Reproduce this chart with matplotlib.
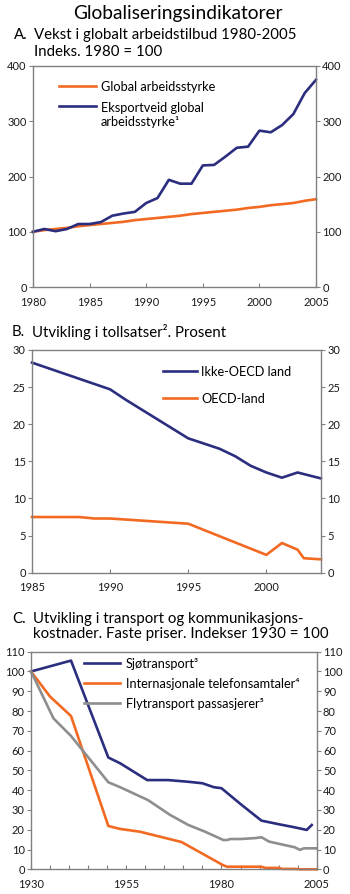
import matplotlib
matplotlib.use("Agg")
import matplotlib.pyplot as plt
from matplotlib.ticker import MultipleLocator

plt.rcParams['font.family'] = ['Lato', 'DejaVu Sans']

NAVY = '#2b2e7f'
ORANGE = '#f26a22'
GREY = '#8e8e8e'
SPINE = '#808080'

# ---- Panel A data ----
years_a = list(range(1980, 2006))
global_labour = [100, 103, 105, 107, 110, 112, 114, 116, 118, 121, 123, 125, 127,
                 129, 132, 134, 136, 138, 140, 143, 145, 148, 150, 152, 156, 159]
export_labour = [100, 105, 101, 105, 114, 114, 117.5, 129, 133, 136, 152, 161, 194,
                 187, 187, 220, 221, 236, 252, 254, 283, 280, 293, 313, 351, 375]
label_a1 = 'Global arbeidsstyrke'
label_a2 = 'Eksportveid global\narbeidsstyrke\u00b9'

# ---- Panel B data ----
non_oecd_years = [1985, 1990, 1991, 1995, 1996, 1997, 1998, 1999, 2000, 2001, 2002, 2003.5]
non_oecd = [28.3, 24.7, 23.3, 18.1, 17.4, 16.7, 15.7, 14.4, 13.5, 12.8, 13.5, 12.7]
oecd_years = [1985, 1988, 1989, 1990, 1995, 2000, 2001, 2002, 2002.4, 2003.5]
oecd = [7.5, 7.5, 7.3, 7.3, 6.6, 2.4, 4.0, 3.1, 1.95, 1.8]
label_b1 = 'Ikke-OECD land'
label_b2 = 'OECD-land'

# ---- Panel C data ----
sea_years = [1930, 1940.5, 1950.3, 1953.4, 1960.5, 1966, 1971, 1975, 1978, 1980,
             1985, 1990.5, 1992, 1995, 1999, 2002.4, 2003.7]
sea = [100, 105.5, 56.5, 53.6, 45.1, 45.1, 44.3, 43.5, 41.5, 41, 33, 24.6, 24,
       22.8, 21.3, 19.9, 22.4]
tel_years = [1930, 1935, 1940.5, 1950.3, 1953.4, 1958.6, 1969.5, 1980.5, 1981.5,
             1990.5, 1991.5, 1995, 1996, 1999.3, 2000.6, 2005]
tel = [100, 87.3, 77.5, 21.9, 20.4, 19.0, 13.8, 2.0, 1.3, 1.3, 0.7, 0.7, 0.2, 0.2, 0.0, 0.0]
air_years = [1930, 1935.9, 1940.5, 1950.3, 1953.4, 1960.7, 1966.5, 1971.3, 1975.7,
             1980.5, 1981.5, 1982.3, 1985, 1989, 1990.5, 1992.5, 1999.3, 2000.6,
             2001.6, 2005]
air = [100, 76.3, 67.4, 44, 41.5, 35, 27.5, 22.4, 19, 14.8, 14.8, 15.3, 15.3, 15.8,
       16.2, 14, 11.1, 9.8, 10.6, 10.6]
label_c1 = 'Sjøtransport\u00b3'
label_c2 = 'Internasjonale telefonsamtaler\u2074'
label_c3 = 'Flytransport passasjerer\u2075'

W, H = 350, 894
fig = plt.figure(figsize=(W / 100, H / 100), dpi=100)


def px_axes(left, right, top, bottom):
    return fig.add_axes([left / W, 1 - bottom / H, (right - left) / W, (bottom - top) / H])


def style(ax):
    for s in ax.spines.values():
        s.set_color(SPINE)
        s.set_linewidth(1.0)
    ax.tick_params(axis='y', which='both', direction='out', length=3, width=0.8,
                   color=SPINE, left=True, right=True, labelleft=True,
                   labelright=True, labelsize=8, pad=1.5, labelcolor='#1a1a1a')
    ax.tick_params(axis='x', which='both', direction='in', length=3, width=0.8,
                   color=SPINE, labelsize=8, pad=7, labelcolor='#1a1a1a')


LW = 1.9
FS_T = 10.8
FS_L = 9.2

# Main title
fig.text(178 / W, 1 - 14 / H, 'Globaliseringsindikatorer', ha='center', va='center',
         fontsize=13.8)

# ---------- Panel A ----------
axA = px_axes(33, 316, 66, 287)
axA.plot(years_a, global_labour, color=ORANGE, lw=LW, label=label_a1, clip_on=False)
axA.plot(years_a, export_labour, color=NAVY, lw=LW, label=label_a2, clip_on=False)
axA.set_xlim(1980, 2005)
axA.set_ylim(0, 400)
axA.set_xticks([1980, 1985, 1990, 1995, 2000, 2005])
axA.set_yticks([0, 100, 200, 300, 400])
style(axA)
legA = axA.legend(loc='upper left', bbox_to_anchor=(0.093, 0.93), frameon=False,
                  fontsize=FS_L, handlelength=2.9, handletextpad=0.35,
                  labelspacing=0.65, borderpad=0, borderaxespad=0)
for hp in legA._legend_handle_box.get_children()[0].get_children():
    hp.align = 'top'
fig.text(14 / W, 1 - 35 / H, 'A.', ha='left', va='center', fontsize=FS_T)
fig.text(34 / W, 1 - 35 / H, 'Vekst i globalt arbeidstilbud 1980-2005', ha='left',
         va='center', fontsize=FS_T)
fig.text(34 / W, 1 - 52 / H, 'Indeks. 1980 = 100', ha='left', va='center', fontsize=FS_T)

# ---------- Panel B ----------
axB = px_axes(32, 321, 350, 572.7)
axB.plot(non_oecd_years, non_oecd, color=NAVY, lw=LW, label=label_b1, clip_on=False)
axB.plot(oecd_years, oecd, color=ORANGE, lw=LW, label=label_b2, clip_on=False)
axB.set_xlim(1985, 2003.5)
axB.set_ylim(0, 30)
axB.set_xticks([1985, 1990, 1995, 2000])
axB.set_yticks([0, 5, 10, 15, 20, 25, 30])
style(axB)
axB.legend(loc='upper left', bbox_to_anchor=(0.452, 0.93), frameon=False,
           fontsize=FS_L, handlelength=2.7, handletextpad=0.3,
           labelspacing=1.2, borderpad=0, borderaxespad=0)
fig.text(12 / W, 1 - 332 / H, 'B.', ha='left', va='center', fontsize=FS_T)
fig.text(32 / W, 1 - 332 / H, 'Utvikling i tollsatser\u00b2. Prosent', ha='left',
         va='center', fontsize=FS_T)

# ---------- Panel C ----------
axC = px_axes(31, 316.7, 651.7, 869.3)
axC.plot(sea_years, sea, color=NAVY, lw=LW, label=label_c1, clip_on=False)
axC.plot(tel_years, tel, color=ORANGE, lw=LW, label=label_c2, clip_on=False)
axC.plot(air_years, air, color=GREY, lw=LW, label=label_c3, clip_on=False)
axC.set_xlim(1930, 2005)
axC.set_ylim(0, 110)
axC.set_xticks([1930, 1955, 1980, 2005])
axC.xaxis.set_minor_locator(MultipleLocator(5))
axC.set_yticks(list(range(0, 111, 10)))
style(axC)
axC.legend(loc='upper left', bbox_to_anchor=(0.187, 0.972), frameon=False,
           fontsize=FS_L, handlelength=2.75, handletextpad=0.5,
           labelspacing=0.62, borderpad=0, borderaxespad=0)
fig.text(12 / W, 1 - 619 / H, 'C.', ha='left', va='center', fontsize=FS_T)
fig.text(33 / W, 1 - 619 / H, 'Utvikling i transport og kommunikasjons-', ha='left',
         va='center', fontsize=FS_T)
fig.text(33 / W, 1 - 634 / H, 'kostnader. Faste priser. Indekser 1930 = 100', ha='left',
         va='center', fontsize=FS_T)

fig.savefig('out.png', dpi=100)
